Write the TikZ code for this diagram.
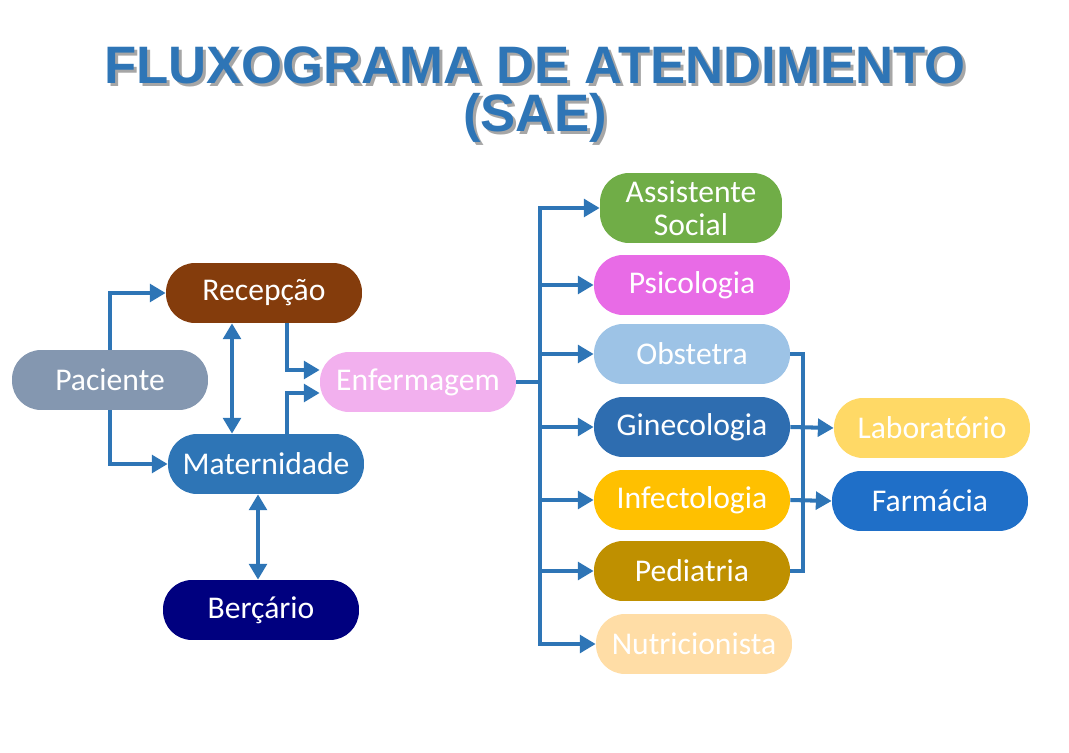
\documentclass[tikz,border=0pt]{standalone}
\usepackage{fontspec}
\setmainfont{Carlito}
\newfontfamily\titlefont{Liberation Sans}
\usetikzlibrary{arrows.meta,calc,shadows}
\definecolor{arrc}{HTML}{2E75B6}
\definecolor{cpac}{HTML}{8497B0}
\definecolor{crec}{HTML}{843C0C}
\definecolor{cmat}{HTML}{2E75B6}
\definecolor{cber}{HTML}{00007F}
\definecolor{cenf}{HTML}{F2B0EE}
\definecolor{cas}{HTML}{70AD47}
\definecolor{cpsi}{HTML}{E86BE6}
\definecolor{cobs}{HTML}{9DC3E6}
\definecolor{cgin}{HTML}{2E6DB0}
\definecolor{cinf}{HTML}{FFC000}
\definecolor{cped}{HTML}{BF9000}
\definecolor{cnut}{HTML}{FFDDA6}
\definecolor{clab}{HTML}{FFD966}
\definecolor{cfar}{HTML}{1F6FC8}
\tikzset{
  box/.style={rounded corners=0.58cm, minimum width=3.92cm, minimum height=1.2cm, text=white, font=\fontsize{18}{20}\selectfont, inner sep=2pt, align=center},
  arr/.style={draw=arrc, line width=2.3pt, -{Triangle[length=9pt,width=10pt]}},
  arrb/.style={draw=arrc, line width=2.3pt, {Triangle[length=9pt,width=10pt]}-{Triangle[length=9pt,width=10pt]}},
  ln/.style={draw=arrc, line width=2.3pt},
  ttl/.style={text=arrc, font=\titlefont\bfseries\fontsize{30}{33}\selectfont},
  ttlsh/.style={text=black!35, font=\titlefont\bfseries\fontsize{30}{33}\selectfont},
}
\begin{document}
\begin{tikzpicture}[x=0.02cm,y=-0.02cm]
\useasboundingbox (0,0) rectangle (1069,753);
\node[ttlsh] (s1) at (538,68) {FLUXOGRAMA DE ATENDIMENTO};
\node[ttlsh] (s2) at (538,121) {(SAE)};
\node[ttl] (t1) at (535,65) {FLUXOGRAMA DE ATENDIMENTO};
\node[ttl] (t2) at (535,118) {(SAE)};

\node[box, fill=cpac] (pac) at (110,380) {Paciente};
\node[box, fill=crec] (rec) at (264,293) {Recepção};
\node[box, fill=cmat] (mat) at (266,464) {Maternidade};
\node[box, fill=cber] (ber) at (261,610) {Berçário};
\node[box, fill=cenf] (enf) at (418,382) {Enfermagem};

\node[box, fill=cas, minimum width=3.64cm, minimum height=1.4cm, font=\fontsize{18}{19}\selectfont] (as) at (691,208) {Assistente\\Social};
\node[box, fill=cpsi] (psi) at (692,285) {Psicologia};
\node[box, fill=cobs] (obs) at (692,354) {Obstetra};
\node[box, fill=cgin] (gin) at (692,427) {Ginecologia};
\node[box, fill=cinf] (inf) at (692,500) {Infectologia};
\node[box, fill=cped] (ped) at (692,571) {Pediatria};
\node[box, fill=cnut] (nut) at (694,644) {Nutricionista};
\node[box, fill=clab] (lab) at (932,428) {Laboratório};
\node[box, fill=cfar] (far) at (930,501) {Farmácia};

\draw[arr] (pac.north) |- (rec.west);
\draw[arr] (pac.south) |- (mat.west);
\draw[arrb] ($(rec.south)+(-32,0)$) -- ($(mat.north)+(-34,0)$);
\draw[arr] ($(rec.south)+(23,0)$) |- ($(enf.west)+(0,-12)$);
\draw[arr] ($(mat.north)+(21,0)$) |- ($(enf.west)+(0,11)$);
\draw[arrb] ($(mat.south)+(-8,0)$) -- ($(ber.north)+(-3,0)$);

\coordinate (br) at (540,382);
\draw[ln] (enf.east) -- (br);
\foreach \n in {as,psi,obs,gin,inf,ped,nut}{
  \draw[arr] (br) |- (\n.west);
}
\draw[ln] (obs.east) -- ++(13,0) |- (ped.east);
\draw[arr] (gin.east) -- (lab.west);
\draw[arr] (inf.east) -- (far.west);
\end{tikzpicture}
\end{document}
